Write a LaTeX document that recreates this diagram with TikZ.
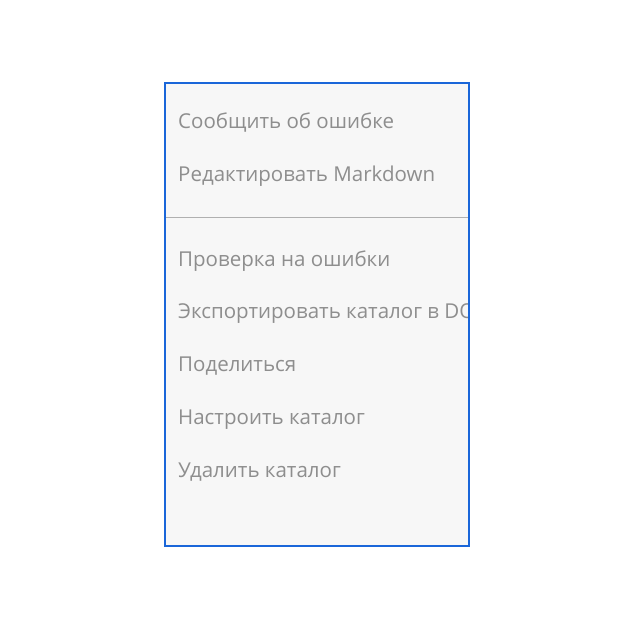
\documentclass[tikz,border=0pt]{standalone}
\usepackage{fontspec}
\setmainfont{Open Sans}
\usetikzlibrary{positioning}
\definecolor{menuedge}{HTML}{1A66D9}
\definecolor{menubg}{HTML}{F7F7F7}
\definecolor{itemtext}{HTML}{8E8E8E}
\definecolor{sepline}{HTML}{B0B0B0}
\newcommand\itemfont{\fontsize{20.5}{22}\selectfont}

\begin{document}
\begin{tikzpicture}[x=1pt,y=-1pt,
    item/.style={anchor=base west,inner sep=0pt,text=itemtext,font=\itemfont}]
    \useasboundingbox (0,0) rectangle (631,623);
    \fill[menubg] (165,83) rectangle (469,546);

    \begin{scope}
      \clip (166,84) rectangle (468,545);
      \path
      (178,128.5) node[item] (report) {Сообщить об ошибке}
      (178,181.25) node[item] (editmd) {Редактировать Markdown}
      ;
      \path
      (178,266) node[item] (check) {Проверка на ошибки}
      (178,318.75) node[item] (export) {Экспортировать каталог в DOCX}
      (178,371.5) node[item] (share) {Поделиться}
      (178,424.25) node[item] (setup) {Настроить каталог}
      (178,477) node[item] (remove) {Удалить каталог}
      ;
    \end{scope}

    \draw[sepline] (166,217.5) -- (468,217.5);
    \draw[menuedge,line width=2pt] (165,83) rectangle (469,546);
  \end{tikzpicture}
\end{document}
